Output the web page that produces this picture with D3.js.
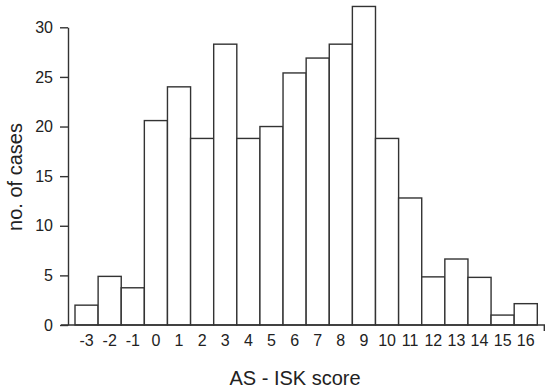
<!DOCTYPE html>
<html>
<head>
<meta charset="utf-8">
<script src="https://cdn.jsdelivr.net/npm/d3@7"></script>
<style>
  body { margin: 0; background: #fff; }
  text { font-family: "Liberation Sans", Arial, sans-serif; fill: #222; }
</style>
</head>
<body>
<script>
// AS-ISK score histogram
var scores = ["-3", "-2", "-1", "0", "1", "2", "3", "4", "5", "6", "7", "8", "9", "10", "11", "12", "13", "14", "15", "16"];
var cases = [2, 4.9, 3.75, 20.6, 24, 18.8, 28.3, 18.8, 20, 25.4, 26.9, 28.3, 32.1, 18.8, 12.8, 4.85, 6.65, 4.8, 1, 2.15];
var yTicks = [0, 5, 10, 15, 20, 25, 30];

var width = 550, height = 389;

var svg = d3.select("body")
    .append("svg")
    .attr("width", width)
    .attr("height", height);

var x = d3.scaleBand()
    .domain(scores)
    .range([75, 537.3])
    .padding(0);

var y = d3.scaleLinear()
    .domain([0, 30])
    .range([325, 27.3]);

//bars
svg.selectAll(".bar")
    .data(cases)
    .enter()
    .append("rect")
    .attr("class", "bar")
    .attr("x", function(d, i){ return x(scores[i]); })
    .attr("width", x.bandwidth())
    .attr("y", function(d){ return y(d); })
    .attr("height", function(d){ return y(0) - y(d); })
    .style("fill", "#fff")
    .style("stroke", "#333")
    .style("stroke-width", 1.4);

//y axis
var yAxis = svg.append("g")
    .attr("transform", "translate(68,0)")
    .call(d3.axisLeft(y).tickValues(yTicks).tickSize(8).tickSizeOuter(0).tickPadding(7));
yAxis.selectAll("path, line").style("stroke", "#333").style("stroke-width", 1.4);
yAxis.selectAll("text").style("font-size", "16px").style("fill", "#222")
    .style("font-family", "Liberation Sans, Arial, sans-serif");

//x axis labels
var xAxis = svg.append("g")
    .attr("transform", "translate(0," + y(0) + ")")
    .call(d3.axisBottom(x).tickSize(0).tickPadding(10));
xAxis.select(".domain").remove();
xAxis.selectAll("text").style("font-size", "16px").style("fill", "#222")
    .style("font-family", "Liberation Sans, Arial, sans-serif");

//x baseline with end tick
var x0 = x.range()[0] - 14, x1 = x.range()[1] + 7;
svg.append("path")
    .attr("d", "M" + x0 + "," + y(0) + "H" + x1 + "V" + (y(0) + 6))
    .style("fill", "none")
    .style("stroke", "#333")
    .style("stroke-width", 1.4);

//axis titles
svg.append("text")
    .attr("x", 295)
    .attr("y", 385)
    .attr("text-anchor", "middle")
    .style("font-size", "20px")
    .text("AS - ISK score");

svg.append("text")
    .attr("transform", "translate(22,177) rotate(-90)")
    .attr("text-anchor", "middle")
    .style("font-size", "20px")
    .text("no. of cases");
</script>
</body>
</html>
